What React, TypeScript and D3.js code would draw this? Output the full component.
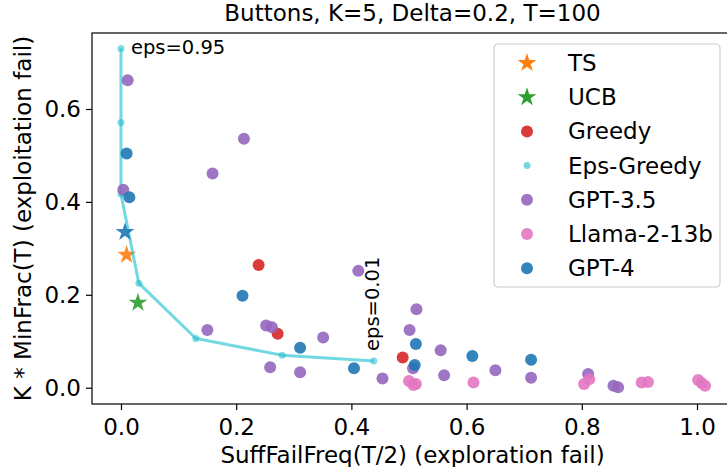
import React, { useEffect, useRef } from 'react';
import * as d3 from 'd3';

// Eps-Greedy sweep (eps from 0.95 down to 0.01)
const epsX = [0.0, 0.0, 0.0, 0.031, 0.130, 0.280, 0.439];
const epsY = [0.730, 0.571, 0.417, 0.225, 0.106, 0.070, 0.0575];

const tsX = [0.0098];
const tsY = [0.286];
const ucbX = [0.0295];
const ucbY = [0.183];
const gpt4StarX = [0.007];
const gpt4StarY = [0.335];

const greedyX = [0.239, 0.272, 0.489];
const greedyY = [0.264, 0.116, 0.065];

const gpt35X = [0.0116, 0.2135, 0.159, 0.004, 0.150, 0.252, 0.262, 0.259, 0.311, 0.412, 0.351, 0.454,
  0.513, 0.501, 0.507, 0.555, 0.561, 0.650, 0.712, 0.811, 0.855, 0.863];
const gpt35Y = [0.662, 0.536, 0.461, 0.426, 0.124, 0.134, 0.130, 0.044, 0.033, 0.2515, 0.108, 0.020,
  0.169, 0.124, 0.042, 0.0805, 0.027, 0.0375, 0.0215, 0.0295, 0.004, 0.001];

const llamaX = [0.500, 0.5075, 0.512, 0.612, 0.804, 0.813, 0.904, 0.915, 1.002, 1.008, 1.014];
const llamaY = [0.0145, 0.006, 0.008, 0.011, 0.008, 0.018, 0.011, 0.012, 0.0166, 0.010, 0.004];

const gpt4X = [0.0098, 0.0145, 0.211, 0.311, 0.4045, 0.512, 0.510, 0.610, 0.712];
const gpt4Y = [0.504, 0.410, 0.198, 0.086, 0.042, 0.094, 0.049, 0.068, 0.060];

const xTicks = [0, 0.2, 0.4, 0.6, 0.8, 1.0];
const yTicks = [0, 0.2, 0.4, 0.6];

const legendLabels = ['TS', 'UCB', 'Greedy', 'Eps-Greedy', 'GPT-3.5', 'Llama-2-13b', 'GPT-4'];
const legendKinds = ['star', 'star', 'dot', 'small', 'dot', 'dot', 'dot'];
const legendColors = ['#ff7f0e', '#2ca02c', '#d62728', '#17becf', '#9467bd', '#e377c2', '#1f77b4'];

const W = 727;
const H = 467;
const FONT = 'DejaVu Sans, sans-serif';
const FS = 23;

export default function App() {
  const svgRef = useRef<SVGSVGElement>(null);

  useEffect(() => {
    if (!svgRef.current) return;
    const svg = d3.select(svgRef.current);
    svg.selectAll('*').remove();

    const margin = { top: 33, right: -6, bottom: 63, left: 92 };
    const x = d3.scaleLinear().domain([-0.0503, 1.0625]).range([margin.left, W - margin.right]);
    const y = d3.scaleLinear().domain([-0.0351, 0.7636]).range([H - margin.bottom, margin.top]);

    const plot = svg.append('g');
    const star = d3.symbol().type(d3.symbolStar).size(110);

    const dots = (xs: number[], ys: number[], color: string, r: number) => {
      plot.append('g').selectAll('circle')
        .data(xs.map((v, i) => [v, ys[i]]))
        .join('circle')
        .attr('cx', d => x(d[0]))
        .attr('cy', d => y(d[1]))
        .attr('r', r)
        .attr('fill', color)
        .attr('fill-opacity', 0.9);
    };
    const stars = (xs: number[], ys: number[], color: string) => {
      plot.append('g').selectAll('path')
        .data(xs.map((v, i) => [v, ys[i]]))
        .join('path')
        .attr('d', star)
        .attr('transform', d => `translate(${x(d[0])},${y(d[1])})`)
        .attr('fill', color)
        .attr('fill-opacity', 0.9);
    };

    stars(tsX, tsY, legendColors[0]);
    stars(ucbX, ucbY, legendColors[1]);
    dots(greedyX, greedyY, legendColors[2], 6);

    // eps-greedy line
    const line = d3.line<number>().x((_, i) => x(epsX[i])).y(d => y(d));
    plot.append('path')
      .datum(epsY)
      .attr('d', line)
      .attr('fill', 'none')
      .attr('stroke', '#17becf')
      .attr('stroke-opacity', 0.6)
      .attr('stroke-width', 3);
    dots(epsX, epsY, 'rgba(23,190,207,0.6)', 3.5);

    plot.append('text')
      .attr('x', x(epsX[0]) + 10)
      .attr('y', y(epsY[0]) + 5)
      .attr('font-size', 19.5)
      .attr('font-family', FONT)
      .text('eps=0.95');
    const lastX = x(epsX[epsX.length - 1]) + 5;
    const lastY = y(epsY[epsY.length - 1]) - 10;
    plot.append('text')
      .attr('transform', `translate(${lastX},${lastY}) rotate(-90)`)
      .attr('font-size', 19.5)
      .attr('font-family', FONT)
      .text('eps=0.01');

    dots(gpt35X, gpt35Y, legendColors[4], 6);
    dots(llamaX, llamaY, legendColors[5], 6);
    dots(gpt4X, gpt4Y, legendColors[6], 6);
    stars(gpt4StarX, gpt4StarY, legendColors[6]);

    // axes
    const xAxis = svg.append('g')
      .attr('transform', `translate(0,${H - margin.bottom})`)
      .call(d3.axisBottom(x).tickValues(xTicks).tickFormat(d3.format('.1f')).tickSize(6).tickPadding(9).tickSizeOuter(0));
    const yAxis = svg.append('g')
      .attr('transform', `translate(${margin.left},0)`)
      .call(d3.axisLeft(y).tickValues(yTicks).tickFormat(d3.format('.1f')).tickSize(6).tickPadding(5).tickSizeOuter(0));
    [xAxis, yAxis].forEach(a => {
      a.selectAll('text').attr('font-size', FS).attr('font-family', FONT).attr('fill', '#000');
      a.selectAll('line').attr('stroke', '#000').attr('stroke-width', 1.2);
      a.select('.domain').remove();
    });

    // frame
    svg.append('rect')
      .attr('x', margin.left)
      .attr('y', margin.top)
      .attr('width', W - margin.right - margin.left)
      .attr('height', H - margin.bottom - margin.top)
      .attr('fill', 'none')
      .attr('stroke', '#000')
      .attr('stroke-width', 1.2);

    // titles
    svg.append('text')
      .attr('x', (margin.left + W - margin.right) / 2)
      .attr('y', 21)
      .attr('text-anchor', 'middle')
      .attr('font-size', FS)
      .attr('font-family', FONT)
      .text('Buttons, K=5, Delta=0.2, T=100');
    svg.append('text')
      .attr('x', (margin.left + W - margin.right) / 2)
      .attr('y', 463)
      .attr('text-anchor', 'middle')
      .attr('font-size', FS)
      .attr('font-family', FONT)
      .text('SuffFailFreq(T/2) (exploration fail)');
    svg.append('text')
      .attr('transform', `translate(31,${(margin.top + H - margin.bottom) / 2}) rotate(-90)`)
      .attr('text-anchor', 'middle')
      .attr('font-size', FS)
      .attr('font-family', FONT)
      .text('K * MinFrac(T) (exploitation fail)');

    // legend
    const lg = svg.append('g').attr('transform', 'translate(494,44)');
    lg.append('rect')
      .attr('width', 226).attr('height', 243)
      .attr('rx', 4)
      .attr('fill', '#fff').attr('fill-opacity', 0.8)
      .attr('stroke', '#ccc').attr('stroke-width', 1.2);
    const rows = lg.selectAll('g.row')
      .data(legendLabels)
      .join('g')
      .attr('class', 'row')
      .attr('transform', (_, i) => `translate(33,${19 + i * 34.2})`);
    rows.each(function (_, i) {
      const g = d3.select(this);
      if (legendKinds[i] === 'star') {
        g.append('path').attr('d', star).attr('fill', legendColors[i]);
      } else {
        g.append('circle')
          .attr('r', legendKinds[i] === 'small' ? 3.5 : 6)
          .attr('fill', legendColors[i])
          .attr('fill-opacity', legendKinds[i] === 'small' ? 0.6 : 0.9);
      }
    });
    rows.append('text')
      .attr('x', 41)
      .attr('y', 8)
      .attr('font-size', FS)
      .attr('font-family', FONT)
      .text(d => d);
  }, []);

  return (
    <svg ref={svgRef} width={W} height={H}
      style={{ position: 'absolute', left: 0, top: 0, background: '#fff' }} />
  );
}
